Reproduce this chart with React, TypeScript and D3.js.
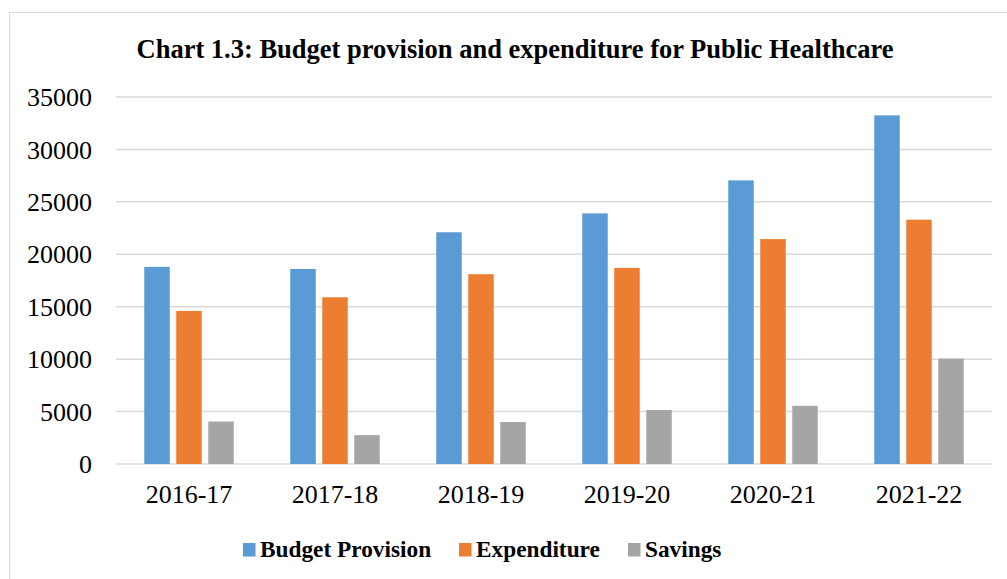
import React from "react";
import * as d3 from "d3";

const years = ["2016-17", "2017-18", "2018-19", "2019-20", "2020-21", "2021-22"];
const budgetProvision = [18800, 18600, 22100, 23900, 27050, 33250];
const expenditure = [14600, 15900, 18100, 18700, 21450, 23300];
const savings = [4050, 2750, 4000, 5150, 5550, 10050];
const yTicks = [0, 5000, 10000, 15000, 20000, 25000, 30000, 35000];

const series = [
  { name: "Budget Provision", values: budgetProvision, color: "#5B9BD5" },
  { name: "Expenditure", values: expenditure, color: "#ED7D31" },
  { name: "Savings", values: savings, color: "#A5A5A5" },
];

const W = 1007;
const H = 579;
const font = "'Liberation Serif', 'Times New Roman', serif";

export default function App() {
  const left = 116;
  const right = 992;
  const top = 97;
  const bottom = 464;

  const x = d3.scaleBand<string>().domain(years).range([left, right]);
  const y = d3.scaleLinear().domain([0, 35000]).range([bottom, top]);

  const barW = 25.5;
  const gap = 6.5;
  const groupW = series.length * barW + (series.length - 1) * gap;

  // legend positions
  const legendX = [243, 459, 628];

  return (
    <svg
      width={W}
      height={H}
      style={{ position: "absolute", left: 0, top: 0, background: "#fff" }}
    >
      <rect x={9.5} y={12.5} width={W - 9} height={H - 12} fill="#fff" stroke="#D9D9D9" />
      <text
        x={515}
        y={58}
        textAnchor="middle"
        fontFamily={font}
        fontWeight="bold"
        fontSize={26.5}
      >
        Chart 1.3: Budget provision and expenditure for Public Healthcare
      </text>

      {yTicks.map((t) => (
        <g key={t}>
          <line x1={left} x2={right} y1={y(t)} y2={y(t)} stroke="#D9D9D9" strokeWidth={1.5} />
          <text
            x={92}
            y={y(t)}
            dy="0.35em"
            textAnchor="end"
            fontFamily={font}
            fontSize={26}
          >
            {t}
          </text>
        </g>
      ))}

      {years.map((yr, i) => {
        const cx = (x(yr) as number) + x.bandwidth() / 2;
        return (
          <g key={yr}>
            {series.map((s, j) => {
              const bx = cx - groupW / 2 + j * (barW + gap);
              return (
                <rect
                  key={s.name}
                  x={bx}
                  y={y(s.values[i])}
                  width={barW}
                  height={y(0) - y(s.values[i])}
                  fill={s.color}
                />
              );
            })}
            <text
              x={cx}
              y={503}
              textAnchor="middle"
              fontFamily={font}
              fontSize={26}
            >
              {yr}
            </text>
          </g>
        );
      })}

      {series.map((s, j) => (
        <g key={s.name} transform={`translate(${legendX[j]},0)`}>
          <rect x={0} y={543} width={12.5} height={13.5} fill={s.color} />
          <text x={17} y={557} fontFamily={font} fontWeight="bold" fontSize={23.3}>
            {s.name}
          </text>
        </g>
      ))}
    </svg>
  );
}
